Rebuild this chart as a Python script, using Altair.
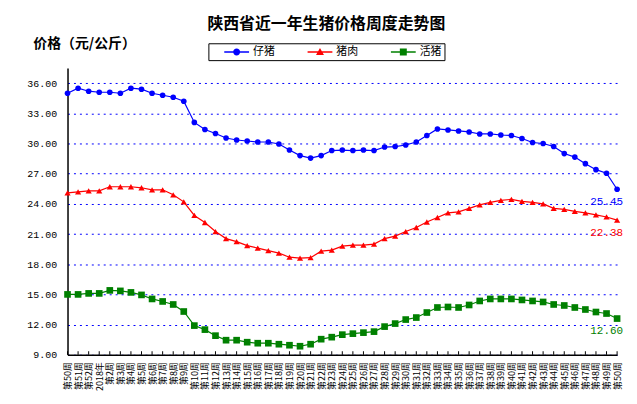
import json
import pandas as pd
import altair as alt

CJK = "Noto Sans CJK SC"

# x tick labels (53 weeks)
weeks = ["第50周", "第51周", "第52周", "2018年"] + ["第%d周" % i for i in range(2, 51)]

series_names = ["仔猪", "猪肉", "活猪"]
series_colors = ["#0000FF", "#FF0000", "#008000"]

piglet = [35.0, 35.5, 35.2, 35.1, 35.1, 35.0, 35.5, 35.4, 35.0, 34.8,
          34.6, 34.2, 32.1, 31.4, 31.0, 30.55, 30.35, 30.25, 30.15, 30.15,
          29.95, 29.35, 28.8, 28.55, 28.8, 29.3, 29.35, 29.3, 29.35, 29.3,
          29.65, 29.7, 29.85, 30.15, 30.8, 31.45, 31.35, 31.25, 31.15, 30.95,
          30.95, 30.85, 30.8, 30.5, 30.1, 30.0, 29.7, 29.0, 28.65, 28.0,
          27.4, 27.05, 25.45]

pork = [25.1, 25.2, 25.3, 25.3, 25.7, 25.7, 25.7, 25.6, 25.4, 25.4,
        24.9, 24.2, 22.85, 22.15, 21.25, 20.55, 20.25, 19.85, 19.6, 19.35,
        19.1, 18.7, 18.6, 18.65, 19.3, 19.4, 19.8, 19.9, 19.9, 20.0,
        20.55, 20.8, 21.25, 21.65, 22.2, 22.65, 23.1, 23.2, 23.55, 23.9,
        24.15, 24.35, 24.45, 24.25, 24.15, 24.0, 23.55, 23.45, 23.25, 23.1,
        22.9, 22.7, 22.38]

hog = [15.0, 15.0, 15.1, 15.1, 15.4, 15.35, 15.2, 14.95, 14.55, 14.3,
       14.0, 13.3, 11.9, 11.5, 10.9, 10.45, 10.45, 10.25, 10.15, 10.15,
       10.05, 9.95, 9.85, 10.05, 10.55, 10.75, 11.0, 11.1, 11.2, 11.3,
       11.8, 12.1, 12.5, 12.7, 13.2, 13.7, 13.75, 13.7, 13.95, 14.35,
       14.55, 14.55, 14.55, 14.45, 14.35, 14.25, 14.0, 13.9, 13.7, 13.5,
       13.25, 13.1, 12.6]

y_ticks = [9, 12, 15, 18, 21, 24, 27, 30, 33, 36]

rows = []
for name, vals in zip(series_names, [piglet, pork, hog]):
    for i, v in enumerate(vals):
        rows.append({"idx": i, "series": name, "price": v})
df = pd.DataFrame(rows)

color_scale = alt.Scale(domain=series_names, range=series_colors)

x_enc = alt.X("idx:Q",
              scale=alt.Scale(domain=[0, len(weeks) - 1], nice=False, zero=False),
              axis=alt.Axis(values=list(range(len(weeks))), tickCount=len(weeks),
                            labelExpr=json.dumps(weeks, ensure_ascii=False) + "[datum.value]",
                            labelAngle=270, labelFont=CJK, labelFontSize=9,
                            labelColor="black", labelPadding=7, labelOverlap=False,
                            labelFlush=False, labelBound=False, ticks=False, grid=False,
                            domainColor="black", domainWidth=1.5),
              title=None)

y_enc = alt.Y("price:Q",
              scale=alt.Scale(domain=[9, 37.5], nice=False, zero=False),
              axis=alt.Axis(values=y_ticks, tickCount=len(y_ticks), format=".2f", grid=True,
                            gridColor="#0000FF", gridDash=[2, 4], gridWidth=1,
                            ticks=False, domainColor="black", domainWidth=1.5,
                            labelFont="Liberation Mono", labelFontSize=10,
                            labelColor="black", labelPadding=11, labelOverlap=False,
                            title="价格（元/公斤）", titleAngle=0, titleX=-35, titleY=-25,
                            titleAlign="left", titleBaseline="middle", titleFont=CJK,
                            titleFontSize=14, titleFontWeight="bold", titleColor="black"))

base = alt.Chart(df)

lines = base.mark_line(strokeWidth=1.2).encode(
    x=x_enc, y=y_enc,
    color=alt.Color("series:N", scale=color_scale, legend=None),
    detail="series:N"
)

points = base.mark_point(filled=True, opacity=1).encode(
    x=x_enc, y=y_enc,
    color=alt.Color("series:N", scale=color_scale, legend=None),
    shape=alt.Shape("series:N", scale=alt.Scale(domain=series_names,
                                                range=["circle", "triangle-up", "square"]),
                    legend=None),
    size=alt.Size("series:N", scale=alt.Scale(domain=series_names, range=[32, 45, 40]),
                  legend=None)
)

end_labels = base.transform_filter("datum.idx == 52").mark_text(
    align="right", dx=6, dy=13, font="Liberation Mono", fontSize=11
).encode(
    x=x_enc, y=y_enc,
    text=alt.Text("price:Q", format=".2f"),
    color=alt.Color("series:N", scale=color_scale, legend=None)
)

x_ticks = base.transform_filter("datum.series == '仔猪'").mark_rule(color="black").encode(
    x=x_enc, y=alt.datum(9), y2=alt.datum(9.35)
)

# legend: line + marker symbols (filled paths drawn wider than the symbol box)
legend_paths = [
    "M-2.5,-0.15H2.5V0.15H-2.5Z"
    "M0.7,0A0.7,0.7,0,1,1,-0.7,0A0.7,0.7,0,1,1,0.7,0Z",
    "M-2.5,-0.15H2.5V0.15H-2.5Z"
    "M0,-0.8L0.8,0.6L-0.8,0.6Z",
    "M-2.5,-0.15H2.5V0.15H-2.5Z"
    "M-0.7,-0.7H0.7V0.7H-0.7Z",
]
leg = alt.Legend(title=None, orient="none", legendX=142, legendY=-25,
                 direction="horizontal", strokeColor="black", fillColor="white",
                 padding=3, symbolOffset=20, symbolSize=100, symbolStrokeWidth=0,
                 symbolOpacity=1, labelFont=CJK, labelFontSize=11, labelOffset=11,
                 columnPadding=20, labelColor="black")

legend_layer = base.transform_filter("datum.idx < 0").mark_point(
    filled=True, size=100
).encode(
    x=x_enc, y=y_enc,
    color=alt.Color("series:N", scale=color_scale, legend=leg),
    shape=alt.Shape("series:N", scale=alt.Scale(domain=series_names, range=legend_paths),
                    legend=leg)
)

chart = alt.layer(lines, x_ticks, points, end_labels, legend_layer).resolve_scale(
    color="independent", shape="independent"
).properties(
    width=554, height=289,
    padding={"left": 60, "top": 59, "right": 12, "bottom": 40},
    autosize="none",
    title=alt.TitleParams("陕西省近一年生猪价格周度走势图", font=CJK, fontSize=16,
                          fontWeight="bold", anchor="start", dx=182, color="black")
).configure_view(stroke="transparent").configure_axis(labelOverlap=False)

chart.save("out.html", embed_options={"renderer": "svg", "actions": False})
